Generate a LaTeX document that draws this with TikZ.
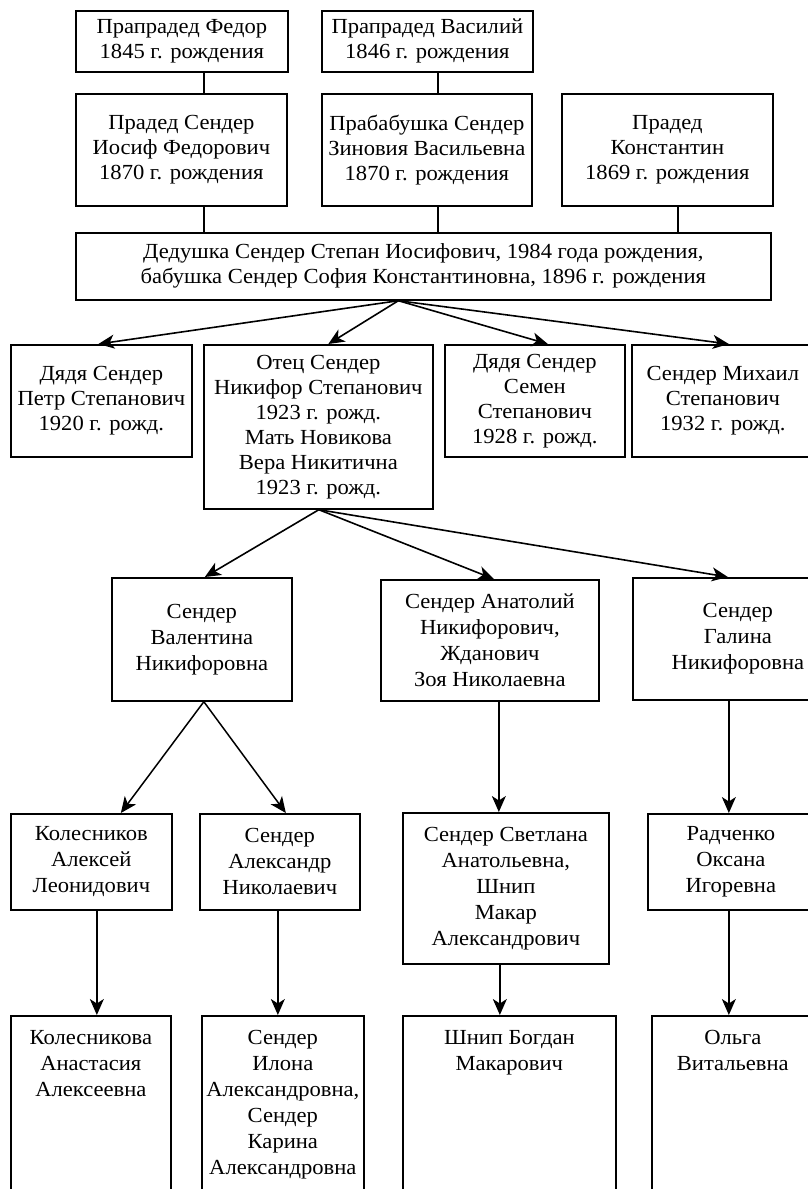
\documentclass[tikz,border=0pt]{standalone}
\usepackage{fontspec}
\setmainfont[FakeStretch=1.05]{Liberation Serif}
\usetikzlibrary{arrows.meta,calc}
\begin{document}
\begin{tikzpicture}[x=1pt,y=-1pt,
  box/.style={draw, line width=1.7pt, inner sep=0pt, align=center, anchor=north west,
    font=\fontsize{21.5}{25}\selectfont},
  lbox/.style={box, font=\fontsize{21.5}{26}\selectfont},
  ebox/.style={draw, line width=1.7pt, inner sep=0pt, anchor=north west, minimum height=200pt},
  etxt/.style={inner sep=0pt, align=center, anchor=north, font=\fontsize{21.5}{26}\selectfont},
  link/.style={line width=1.6pt},
  arr/.style={line width=1.6pt, -{Stealth[length=16pt,width=14pt,inset=4.5pt]}},
  thin arr/.style={arr, line width=1.5pt}
]
\useasboundingbox (0,0) rectangle (807,1189);

% row 1
\node[box, minimum width=212pt, minimum height=61pt] (fedor) at (75,10) {Прапрадед Федор\\1845 г. рождения};
\node[box, minimum width=211pt, minimum height=61pt] (vasiliy) at (321,10) {Прапрадед Василий\\1846 г. рождения};
% row 2
\node[box, minimum width=211pt, minimum height=112pt] (iosif) at (75,93) {Прадед Сендер\\Иосиф Федорович\\1870 г. рождения};
\node[box, minimum width=210pt, minimum height=112pt] (zinovia) at (321,93) {Прабабушка Сендер\\Зиновия Васильевна\\1870 г. рождения};
\node[box, minimum width=211pt, minimum height=112pt] (konst) at (561,93) {Прадед\\Константин\\1869 г. рождения};
% row 3
\node[box, minimum width=695pt, minimum height=67pt] (gp) at (75,232) {Дедушка Сендер Степан Иосифович, 1984 года рождения,\\бабушка Сендер София Константиновна, 1896 г. рождения};
% row 4
\node[box, minimum width=181pt, minimum height=112pt] (petr) at (10,344) {Дядя Сендер\\Петр Степанович\\1920 г. рожд.};
\node[box, minimum width=229pt, minimum height=164pt] (father) at (203,344) {Отец Сендер\\Никифор Степанович\\1923 г. рожд.\\Мать Новикова\\Вера Никитична\\1923 г. рожд.};
\node[box, minimum width=180pt, minimum height=112pt] (semen) at (444,344) {Дядя Сендер\\Семен\\Степанович\\1928 г. рожд.};
\node[box, minimum width=182pt, minimum height=112pt] (mikhail) at (631,344) {Сендер Михаил\\Степанович\\1932 г. рожд.};
% row 5
\node[lbox, minimum width=180pt, minimum height=123pt] (valentina) at (111,577) {Сендер\\Валентина\\Никифоровна};
\node[lbox, minimum width=218pt, minimum height=121pt] (anatoly) at (380,579) {Сендер Анатолий\\Никифорович,\\Жданович\\Зоя Николаевна};
\node[lbox, minimum width=210pt, minimum height=122pt] (galina) at (632,577) {Сендер\\Галина\\Никифоровна};
% row 6
\node[lbox, minimum width=161pt, minimum height=96pt] (kolesnikov) at (10,813) {Колесников\\Алексей\\Леонидович};
\node[lbox, minimum width=160pt, minimum height=96pt] (alexandr) at (199,813) {Сендер\\Александр\\Николаевич};
\node[lbox, minimum width=206pt, minimum height=151pt] (svetlana) at (402,812) {Сендер Светлана\\Анатольевна,\\Шнип\\Макар\\Александрович};
\node[lbox, minimum width=166pt, minimum height=96pt] (radchenko) at (647,813) {Радченко\\Оксана\\Игоревна};
% row 7
\node[ebox, minimum width=160pt] (kolesnikova) at (10,1015) {};
\node[etxt] (kolesnikovat) at ([yshift=-15pt]kolesnikova.north) {Колесникова\\Анастасия\\Алексеевна};
\node[ebox, minimum width=162pt] (ilona) at (201,1015) {};
\node[etxt] (ilonat) at ([yshift=-15pt]ilona.north) {Сендер\\Илона\\Александровна,\\Сендер\\Карина\\Александровна};
\node[ebox, minimum width=213pt] (shnip) at (402,1015) {};
\node[etxt] (shnipt) at ([yshift=-15pt]shnip.north) {Шнип Богдан\\Макарович};
\node[ebox, minimum width=162pt] (olga) at (651,1015) {};
\node[etxt] (olgat) at ([yshift=-15pt]olga.north) {Ольга\\Витальевна};

% plain links
\draw[link] ([xshift=22pt]fedor.south) -- ([xshift=22pt]fedor.south |- iosif.north);
\draw[link] ([xshift=22.5pt]iosif.south) -- ([xshift=22.5pt]iosif.south |- gp.north);
\draw[link] ([xshift=10.5pt]vasiliy.south) -- ([xshift=10.5pt]vasiliy.south |- zinovia.north);
\draw[link] ([xshift=11pt]zinovia.south) -- ([xshift=11pt]zinovia.south |- gp.north);
\draw[link] ([xshift=10.5pt]konst.south) -- ([xshift=10.5pt]konst.south |- gp.north);

% grandparents to children
\coordinate (gpsrc) at ([xshift=-25pt]gp.south);
\draw[arr] (gpsrc) -- ([xshift=-3pt]petr.north);
\draw[arr] (gpsrc) -- ([xshift=10pt]father.north);
\draw[arr] (gpsrc) -- ([xshift=13pt]semen.north);
\draw[arr] (gpsrc) -- ([xshift=6pt]mikhail.north);

% father to children
\coordinate (fsrc) at ([xshift=0.5pt]father.south);
\draw[arr] (fsrc) -- ([xshift=3pt]valentina.north);
\draw[arr] (fsrc) -- ([xshift=4pt]anatoly.north);
\draw[arr] (fsrc) -- ([xshift=-10pt]galina.north);

% Valentina to children
\coordinate (vsrc) at ([xshift=2pt]valentina.south);
\draw[thin arr] (vsrc) -- ([xshift=29.5pt]kolesnikov.north);
\draw[thin arr] (vsrc) -- ([xshift=6pt]alexandr.north);

% verticals
\draw[thin arr] ([xshift=9pt]anatoly.south) -- ([xshift=9pt]anatoly.south |- svetlana.north);
\draw[thin arr] ([xshift=-9pt]galina.south) -- ([xshift=-9pt]galina.south |- radchenko.north);
\draw[thin arr] ([xshift=5.5pt]kolesnikov.south) -- ([xshift=5.5pt]kolesnikov.south |- kolesnikova.north);
\draw[thin arr] ([xshift=-2pt]alexandr.south) -- ([xshift=-2pt]alexandr.south |- ilona.north);
\draw[thin arr] ([xshift=-6pt]svetlana.south) -- ([xshift=-6pt]svetlana.south |- shnip.north);
\draw[thin arr] ([xshift=-2pt]radchenko.south) -- ([xshift=-2pt]radchenko.south |- olga.north);
\end{tikzpicture}
\end{document}
